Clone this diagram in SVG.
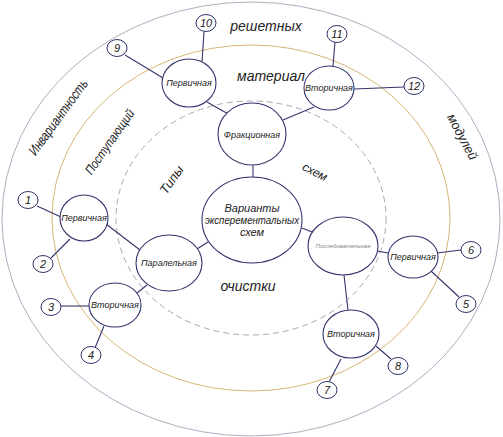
<svg xmlns="http://www.w3.org/2000/svg" width="503" height="437" viewBox="0 0 503 437">
<style>
.bg{fill:#fff}
.ring{fill:none}
.node{fill:#fff;stroke:#34346c;stroke-width:1.1}
.num{fill:#fff;stroke:#34346c;stroke-width:1}
.conn line{stroke:#34346c;stroke-width:1.1}
text{font-family:"Liberation Sans","DejaVu Sans",sans-serif;font-style:italic;fill:#222;text-anchor:middle}
.lbl{font-size:9px}
.nm{font-size:11px}
.big{font-size:14px}
</style>
<rect class="bg" width="503" height="437"/>
<g id="rings">
<ellipse class="ring" cx="251" cy="219" rx="249" ry="217" stroke="#aeaec2" stroke-width="1"/>
<ellipse class="ring" cx="251" cy="218" rx="199" ry="173" stroke="#d8b474" stroke-width="1"/>
<ellipse class="ring" cx="251" cy="218" rx="135" ry="117" stroke="#a8a8b0" stroke-width="1" stroke-dasharray="6,4"/>
</g>
<g id="ring-labels">
<text class="big" x="266" y="31" font-size="15">решетных</text>
<text class="big" x="271" y="81">материал</text>
<text class="big" x="248" y="291">очистки</text>
<text class="big" transform="translate(58,117) rotate(-54)" y="5" textLength="90" lengthAdjust="spacingAndGlyphs">Инвариантность</text>
<text font-size="13" transform="translate(110,142) rotate(-55)" y="4" textLength="76" lengthAdjust="spacingAndGlyphs">Поступающий</text>
<text font-size="13" transform="translate(172,180) rotate(-55)" y="4">Типы</text>
<text font-size="12" transform="translate(315,172) rotate(27)" y="4">схем</text>
<text font-size="13" transform="translate(462,137) rotate(62)" y="4" textLength="50" lengthAdjust="spacingAndGlyphs">модулей</text>
</g>
<g class="conn" id="connectors">
<line x1="204" y1="32" x2="202" y2="62"/>
<line x1="125" y1="55" x2="163" y2="78"/>
<line x1="207" y1="102" x2="230" y2="115"/>
<line x1="283" y1="120" x2="314" y2="107"/>
<line x1="333" y1="66" x2="335" y2="42"/>
<line x1="354" y1="89" x2="404" y2="87"/>
<line x1="253" y1="165" x2="253" y2="177"/>
<line x1="208" y1="242" x2="197" y2="249"/>
<line x1="302" y1="228" x2="312" y2="232"/>
<line x1="106" y1="224" x2="140" y2="250"/>
<line x1="147" y1="285" x2="137" y2="293"/>
<line x1="37" y1="206" x2="61" y2="217"/>
<line x1="70" y1="239" x2="51" y2="258"/>
<line x1="61" y1="306" x2="89" y2="306"/>
<line x1="104" y1="326" x2="95" y2="348"/>
<line x1="377" y1="251" x2="388" y2="253"/>
<line x1="344" y1="275" x2="348" y2="310"/>
<line x1="437" y1="253" x2="461" y2="250"/>
<line x1="431" y1="271" x2="459" y2="297"/>
<line x1="376" y1="346" x2="391" y2="359"/>
<line x1="341" y1="359" x2="329" y2="382"/>
</g>
<g id="n-center"><ellipse class="node" cx="252" cy="220" rx="50" ry="43"/>
<text font-size="11" x="252" y="212">Варианты</text>
<text font-size="11" x="252" y="224" textLength="94" lengthAdjust="spacingAndGlyphs">эксперементальных</text>
<text font-size="11" x="252" y="236">схем</text></g>
<g id="n-frac"><ellipse class="node" cx="252" cy="134" rx="34" ry="31"/><text class="lbl" x="252" y="138">Фракционная</text></g>
<g id="n-perv-tl"><ellipse class="node" cx="189" cy="83" rx="27" ry="24"/><text class="lbl" x="189" y="86">Первичная</text></g>
<g id="n-vtor-tr"><ellipse class="node" cx="329" cy="88" rx="25" ry="22"/><text class="lbl" x="329" y="91">Вторичная</text></g>
<g id="n-paral"><ellipse class="node" cx="169" cy="263" rx="33" ry="28"/><text class="lbl" x="169" y="266">Паралельная</text></g>
<g id="n-posl"><ellipse class="node" cx="343" cy="246" rx="35" ry="29"/><text font-size="6" x="343" y="248" style="fill:#888">Последовательная</text></g>
<g id="n-perv-r"><ellipse class="node" cx="413" cy="257" rx="25" ry="21"/><text class="lbl" x="413" y="260">Первичная</text></g>
<g id="n-vtor-b"><ellipse class="node" cx="351" cy="334" rx="28" ry="24"/><text class="lbl" x="351" y="337">Вторичная</text></g>
<g id="n-perv-l"><ellipse class="node" cx="84" cy="218" rx="24" ry="23"/><text class="lbl" x="84" y="221">Первичная</text></g>
<g id="n-vtor-l"><ellipse class="node" cx="115" cy="305" rx="26" ry="22"/><text class="lbl" x="115" y="308">Вторичная</text></g>
<g id="num-1"><ellipse class="num" cx="28" cy="200" rx="10" ry="8.5"/><text class="nm" x="28" y="204">1</text></g>
<g id="num-2"><ellipse class="num" cx="43" cy="264" rx="10" ry="8.5"/><text class="nm" x="43" y="268">2</text></g>
<g id="num-3"><ellipse class="num" cx="51" cy="307" rx="10" ry="8.5"/><text class="nm" x="51" y="311">3</text></g>
<g id="num-4"><ellipse class="num" cx="91" cy="355" rx="10" ry="8.5"/><text class="nm" x="91" y="359">4</text></g>
<g id="num-5"><ellipse class="num" cx="466" cy="304" rx="10" ry="8.5"/><text class="nm" x="466" y="308">5</text></g>
<g id="num-6"><ellipse class="num" cx="471" cy="250" rx="10" ry="8.5"/><text class="nm" x="471" y="254">6</text></g>
<g id="num-7"><ellipse class="num" cx="327" cy="390" rx="10" ry="8.5"/><text class="nm" x="327" y="394">7</text></g>
<g id="num-8"><ellipse class="num" cx="398" cy="366" rx="10" ry="8.5"/><text class="nm" x="398" y="370">8</text></g>
<g id="num-9"><ellipse class="num" cx="117" cy="48" rx="10" ry="8.5"/><text class="nm" x="117" y="52">9</text></g>
<g id="num-10"><ellipse class="num" cx="206" cy="23" rx="10" ry="8.5"/><text class="nm" x="206" y="27">10</text></g>
<g id="num-11"><ellipse class="num" cx="337" cy="34" rx="10" ry="8.5"/><text class="nm" x="337" y="38">11</text></g>
<g id="num-12"><ellipse class="num" cx="414" cy="86" rx="10" ry="8.5"/><text class="nm" x="414" y="90">12</text></g>
</svg>
